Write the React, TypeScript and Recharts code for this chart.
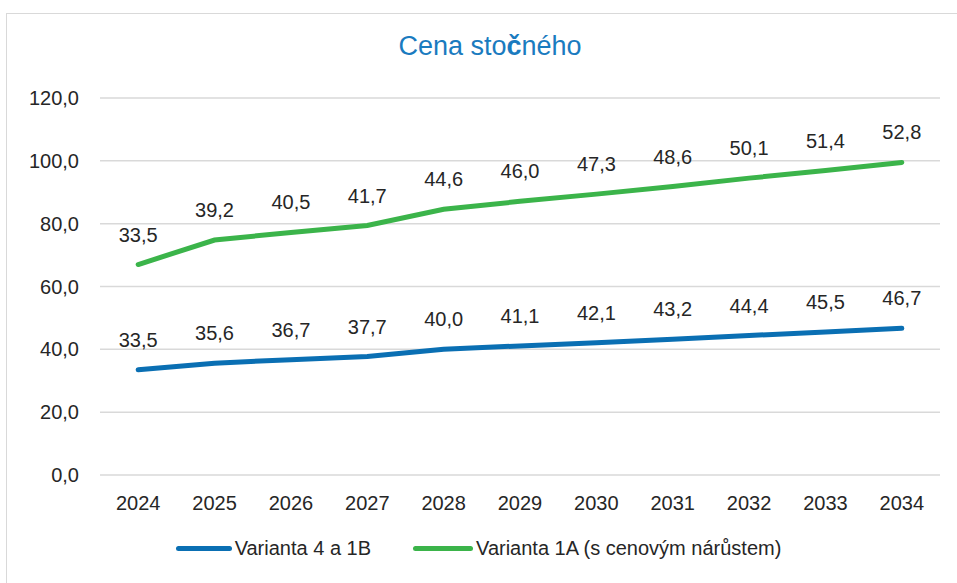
import React from 'react';
import { ComposedChart, Area, XAxis, YAxis, CartesianGrid, LabelList } from 'recharts';

const years = ['2024', '2025', '2026', '2027', '2028', '2029', '2030', '2031', '2032', '2033', '2034'];
const varianta4a1B = [33.5, 35.6, 36.7, 37.7, 40.0, 41.1, 42.1, 43.2, 44.4, 45.5, 46.7];
const varianta1A = [33.5, 39.2, 40.5, 41.7, 44.6, 46.0, 47.3, 48.6, 50.1, 51.4, 52.8];
const yTicks = [0, 20, 40, 60, 80, 100, 120];

const seriesNames = ['Varianta 4 a 1B', 'Varianta 1A (s cenovým nárůstem)'];
const BLUE = '#0a6fb3';
const GREEN = '#3bb44a';
const FONT = '"Liberation Sans", Arial, sans-serif';

const data = years.map((y, i) => ({ year: y, v4: varianta4a1B[i], v1a: varianta1A[i] }));

const fmt = (v: any) => (typeof v === 'number' ? v.toFixed(1).replace('.', ',') : v);

const LegendContent = () => (
  <div style={{ position: 'absolute', left: 0, top: 537, width: 957, display: 'flex', justifyContent: 'center', alignItems: 'center', fontFamily: FONT, fontSize: 20, color: '#262626', paddingLeft: 0, boxSizing: 'border-box' }}>
    <div style={{ display: 'flex', alignItems: 'center', marginRight: 42 }}>
      <div style={{ width: 56, height: 5, borderRadius: 3, background: BLUE, marginRight: 3 }} />
      <span>{seriesNames[0]}</span>
    </div>
    <div style={{ display: 'flex', alignItems: 'center' }}>
      <div style={{ width: 60, height: 5, borderRadius: 3, background: GREEN, marginRight: 3 }} />
      <span>{seriesNames[1]}</span>
    </div>
  </div>
);

export default function App() {
  return (
    <div style={{ position: 'absolute', left: 0, top: 0, width: 957, height: 583, background: '#fff', overflow: 'hidden', fontFamily: FONT }}>
      <div style={{ position: 'absolute', left: 6, top: 13, width: 980, height: 620, border: '1.5px solid #d9d9d9', boxSizing: 'border-box' }} />
      <div style={{ position: 'absolute', left: 0, top: 31, width: 980, textAlign: 'center', fontSize: 27, color: '#1a7bbf', whiteSpace: 'nowrap' }}>
        Cena sto<span style={{ fontWeight: 'bold' }}>č</span>ného
      </div>
      <ComposedChart
        width={957}
        height={583}
        data={data}
        margin={{ top: 98, right: 17, bottom: 78, left: 0 }}
        style={{ position: 'absolute', left: 0, top: 0 }}
      >
        <CartesianGrid vertical={false} stroke="#d9d9d9" strokeWidth={1.5} />
        <XAxis
          dataKey="year"
          scale="band"
          height={30}
          axisLine={false}
          tickLine={false}
          tickMargin={15}
          tick={{ fontSize: 20, fill: '#262626', fontFamily: FONT }}
          interval={0}
        />
        <YAxis
          width={100}
          domain={[0, 120]}
          ticks={yTicks}
          axisLine={false}
          tickLine={false}
          tickMargin={15}
          tickFormatter={fmt}
          tick={{ fontSize: 20, fill: '#262626', fontFamily: FONT }}
        />
        <Area
          type="linear"
          dataKey="v4"
          name={seriesNames[0]}
          stackId="s"
          stroke={BLUE}
          strokeWidth={5}
          fill="none"
          fillOpacity={0}
          dot={false}
          activeDot={false}
          isAnimationActive={false}
          strokeLinecap="round"
        >
          <LabelList dataKey="v4" position="top" offset={23} formatter={fmt} style={{ fontSize: 20, fill: '#262626', fontFamily: FONT }} />
        </Area>
        <Area
          type="linear"
          dataKey="v1a"
          name={seriesNames[1]}
          stackId="s"
          stroke={GREEN}
          strokeWidth={5}
          fill="none"
          fillOpacity={0}
          dot={false}
          activeDot={false}
          isAnimationActive={false}
          strokeLinecap="round"
        >
          <LabelList dataKey="v1a" position="top" offset={23} formatter={fmt} style={{ fontSize: 20, fill: '#262626', fontFamily: FONT }} />
        </Area>
      </ComposedChart>
      <LegendContent />
    </div>
  );
}
